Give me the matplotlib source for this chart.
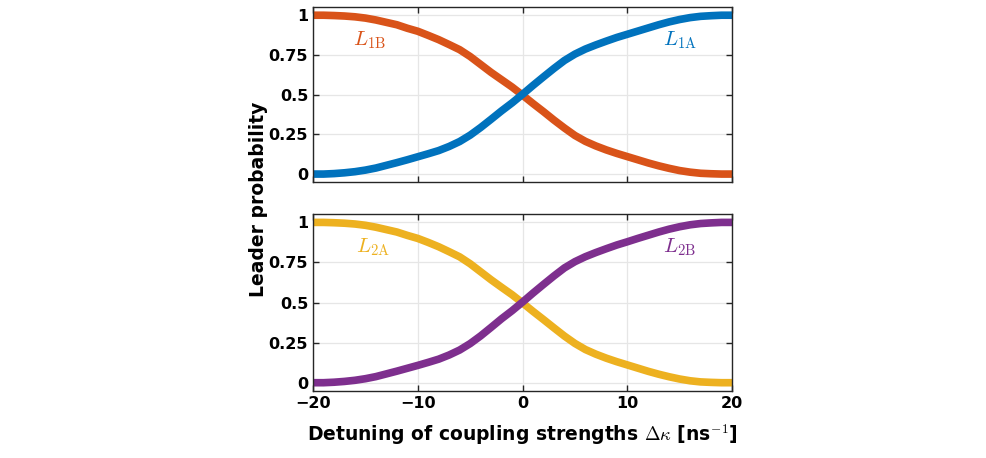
import matplotlib
matplotlib.use("Agg")
import matplotlib.pyplot as plt

plt.rcParams['mathtext.fontset'] = 'cm'
plt.rcParams['font.family'] = ['DejaVu Sans']

# detuning (ns^-1)
dk = list(range(-20, 21))

L1A = [0.0, 0.0, 0.003, 0.008, 0.015, 0.025, 0.038, 0.055, 0.072, 0.09, 0.109,
       0.128, 0.148, 0.174, 0.205, 0.245, 0.293, 0.345, 0.398, 0.448, 0.502,
       0.558, 0.612, 0.665, 0.715, 0.755, 0.787, 0.813, 0.837, 0.86, 0.88,
       0.9, 0.92, 0.94, 0.958, 0.973, 0.985, 0.993, 0.997, 1.0, 1.0]
L1B = [1.0, 1.0, 0.998, 0.995, 0.99, 0.982, 0.97, 0.955, 0.94, 0.918, 0.899,
       0.873, 0.846, 0.815, 0.783, 0.74, 0.69, 0.64, 0.594, 0.548, 0.497,
       0.444, 0.393, 0.34, 0.29, 0.243, 0.206, 0.177, 0.152, 0.13, 0.11,
       0.09, 0.07, 0.052, 0.036, 0.022, 0.012, 0.005, 0.002, 0.0, 0.0]
L2A = [1.0, 1.0, 0.998, 0.995, 0.99, 0.982, 0.97, 0.955, 0.94, 0.919, 0.9,
       0.875, 0.848, 0.817, 0.785, 0.742, 0.692, 0.642, 0.595, 0.549, 0.498,
       0.445, 0.394, 0.342, 0.291, 0.245, 0.207, 0.178, 0.153, 0.131, 0.111,
       0.091, 0.071, 0.053, 0.037, 0.023, 0.012, 0.005, 0.002, 0.0, 0.0]
L2B = [0.0, 0.0, 0.003, 0.008, 0.015, 0.025, 0.038, 0.055, 0.072, 0.09, 0.108,
       0.127, 0.147, 0.173, 0.204, 0.244, 0.292, 0.345, 0.399, 0.449, 0.503,
       0.559, 0.613, 0.666, 0.716, 0.755, 0.786, 0.812, 0.836, 0.859, 0.879,
       0.9, 0.92, 0.94, 0.958, 0.973, 0.985, 0.993, 0.997, 1.0, 1.0]

blue = '#0072BD'
orange = '#D95319'
yellow = '#EDB120'
purple = '#7E2F8E'

fig = plt.figure(figsize=(9.86, 4.58), dpi=100)
ax1 = fig.add_axes([0.3175, 0.6026, 0.4249, 0.3815])
ax2 = fig.add_axes([0.3175, 0.1469, 0.4249, 0.385])

style = dict(lw=5.5, solid_capstyle='butt', solid_joinstyle='round')
ax1.plot(dk, L1B, color=orange, **style)
ax1.plot(dk, L1A, color=blue, **style)
ax1.text(-14.6, 0.845, r'$L_{\mathrm{1B}}$', color=orange, fontsize=15, ha='center', va='center')
ax1.text(15.0, 0.845, r'$L_{\mathrm{1A}}$', color=blue, fontsize=15, ha='center', va='center')

ax2.plot(dk, L2A, color=yellow, **style)
ax2.plot(dk, L2B, color=purple, **style)
ax2.text(-14.3, 0.845, r'$L_{\mathrm{2A}}$', color=yellow, fontsize=15, ha='center', va='center')
ax2.text(15.0, 0.845, r'$L_{\mathrm{2B}}$', color=purple, fontsize=15, ha='center', va='center')

for ax in (ax1, ax2):
    ax.set_xlim(-20, 20)
    ax.set_ylim(-0.05, 1.05)
    ax.set_xticks([-20, -10, 0, 10, 20])
    ax.set_yticks([0, 0.25, 0.5, 0.75, 1])
    ax.set_yticklabels(['0', '0.25', '0.5', '0.75', '1'])
    ax.grid(True, color='#e6e6e6', lw=0.9)
    ax.set_axisbelow(True)
    ax.tick_params(direction='in', top=True, right=True, length=4, width=1,
                   labelsize=11.5, color='#262626')
    for lab in ax.get_xticklabels() + ax.get_yticklabels():
        lab.set_fontweight('bold')
    for sp in ax.spines.values():
        sp.set_color('#262626')
        sp.set_linewidth(1)

ax1.set_xticklabels([])
ax2.set_xticklabels(['\u221220', '\u221210', '0', '10', '20'])
for lab in ax2.get_xticklabels():
    lab.set_fontweight('bold')

ax2.set_xlabel(r'Detuning of coupling strengths $\Delta\kappa$ [ns$^{-1}$]',
               fontsize=13.5, fontweight='bold', labelpad=8)
fig.text(0.262, 0.565, 'Leader probability', rotation=90, fontsize=13.5,
         fontweight='bold', ha='center', va='center')

fig.savefig('out.png', dpi=100)
